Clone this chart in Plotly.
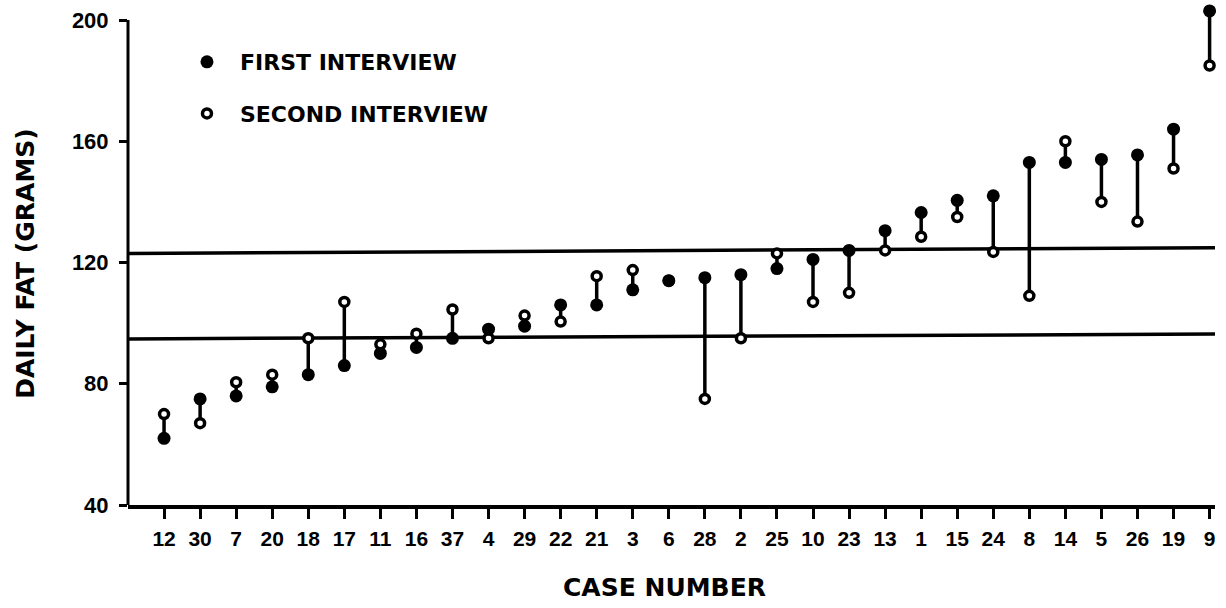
import plotly.graph_objects as go

# Case numbers, ordered along the x axis
cases = ["12", "30", "7", "20", "18", "17", "11", "16", "37", "4",
         "29", "22", "21", "3", "6", "28", "2", "25", "10", "23",
         "13", "1", "15", "24", "8", "14", "5", "26", "19", "9"]

# Daily fat intake (grams) at each interview
first_interview = [62, 75, 76, 79, 83, 86, 90, 92, 95, 98,
                   99, 106, 106, 111, 114, 115, 116, 118, 121, 124,
                   130.5, 136.5, 140.5, 142, 153, 153, 154, 155.5, 164, 203]
second_interview = [70, 67, 80.5, 83, 95, 107, 93, 96.5, 104.5, 95,
                    102.5, 100.5, 115.5, 117.5, 114, 75, 95, 123, 107, 110,
                    124, 128.5, 135, 123.5, 109, 160, 140, 133.5, 151, 185]

# Reference levels (value at the left and right ends of the frame)
upper_level = (123.0, 124.9)
lower_level = (94.8, 96.4)

y_ticks = [40, 80, 120, 160, 200]
y_axis_span = (40, 200)

idx = list(range(len(cases)))
up = [max(s - f, 0) for f, s in zip(first_interview, second_interview)]
down = [max(f - s, 0) for f, s in zip(first_interview, second_interview)]

INK = "black"
TITLE_FONT = dict(family="DejaVu Sans", size=25, color=INK, weight="bold")

fig = go.Figure()

# Connectors between the two interviews of the same case
fig.add_trace(go.Scatter(
    x=idx, y=first_interview, mode="markers",
    marker=dict(size=1, color="rgba(0,0,0,0)"),
    error_y=dict(type="data", symmetric=False, array=up, arrayminus=down,
                 width=0, thickness=3.5, color=INK),
    cliponaxis=False, showlegend=False, hoverinfo="skip",
))

fig.add_trace(go.Scatter(
    x=idx, y=second_interview, mode="markers", name="SECOND INTERVIEW",
    marker=dict(symbol="circle", size=9, color="white",
                line=dict(color=INK, width=3.5)),
    cliponaxis=False, legendgroup="b", legendrank=2,
))

fig.add_trace(go.Scatter(
    x=idx, y=first_interview, mode="markers", name="FIRST INTERVIEW",
    marker=dict(symbol="circle", size=13, color=INK, line=dict(width=0)),
    cliponaxis=False, legendgroup="a", legendrank=1,
))

x_lo, x_hi = -1.0, 29.15
for lv in (upper_level, lower_level):
    fig.add_shape(type="line", xref="x", yref="y",
                  x0=x_lo, x1=x_hi, y0=lv[0], y1=lv[1],
                  line=dict(color=INK, width=3.5), layer="below")

# Vertical axis line only spans the labelled range
fig.add_shape(type="line", xref="paper", yref="y",
              x0=0, x1=0, y0=y_axis_span[0], y1=y_axis_span[1],
              line=dict(color=INK, width=3))

fig.update_layout(
    width=1226, height=608,
    margin=dict(l=128, r=11, t=8, b=103),
    paper_bgcolor="white", plot_bgcolor="white",
    showlegend=True,
    legend=dict(
        x=0.0423, y=0.9336, xanchor="left", yanchor="top",
        bgcolor="rgba(0,0,0,0)",
        font=dict(family="DejaVu Sans", size=22, color=INK, weight="bold"),
        traceorder="grouped", tracegroupgap=20, itemwidth=56,
    ),
    xaxis=dict(
        range=[x_lo, x_hi], tickmode="array", tickvals=idx, ticktext=cases,
        showgrid=False, zeroline=False,
        showline=True, linecolor=INK, linewidth=3.5,
        ticks="outside", ticklen=10, tickwidth=2.5, tickcolor=INK,
        tickfont=dict(family="Liberation Sans", size=21, color=INK, weight="bold"),
        ticklabelstandoff=2,
    ),
    yaxis=dict(
        range=[40, 203.96], tickmode="array", tickvals=y_ticks,
        showgrid=False, zeroline=False, showline=False,
        ticks="outside", ticklen=8, tickwidth=2.5, tickcolor=INK,
        tickfont=dict(family="Liberation Sans", size=22, color=INK, weight="bold"),
        ticklabelstandoff=6,
    ),
    annotations=[
        dict(text="CASE NUMBER", xref="paper", yref="paper",
             x=0.494, y=-0.165, xanchor="center", yanchor="middle",
             showarrow=False, font=TITLE_FONT),
        dict(text="DAILY FAT (GRAMS)", xref="paper", yref="paper",
             x=-0.094, y=0.485, xanchor="center", yanchor="middle",
             textangle=-90, showarrow=False, font=TITLE_FONT),
    ],
)

fig.write_html("out.html")
